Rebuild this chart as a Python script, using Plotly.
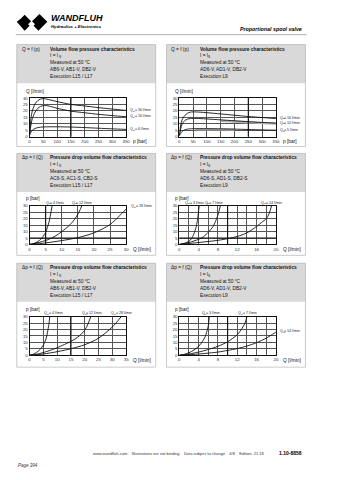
import plotly.graph_objects as go

W, H = 339, 480
def px(x): return x / W
def py(y): return 1 - y / H

FONT = "Liberation Sans, Arial, sans-serif"

# ---------------- data ----------------
# Row 1 left: Q = f(p), Execution L15/L17
r1l_labels = ["30 l/min", "16 l/min", "6 l/min"]
r1l_a_p = [0, 5, 10, 20, 30, 40, 50, 75, 100, 150, 200, 250, 300, 350]
r1l_a_q = [2, 14, 20, 25.5, 28, 29.2, 29.5, 28.5, 27.2, 25, 23.8, 22.5, 21.4, 20.3]
r1l_b_p = [0, 5, 10, 20, 30, 40, 50, 60, 75, 100, 150, 200, 250, 300, 350]
r1l_b_q = [2, 9, 14, 19, 22, 23.5, 24, 24.1, 23.5, 22, 19.8, 18.5, 17.3, 16.3, 15.4]
r1l_c_p = [0, 5, 10, 20, 30, 50, 100, 150, 200, 250, 300, 350]
r1l_c_q = [1, 3.5, 5, 6.3, 7, 7.5, 7.6, 7.4, 7, 6.5, 6, 5.6]
r1l_label_pos = [(357, 20.5), (357, 15.8), (357, 5.8)]

# Row 1 right: Q = f(p), Execution L9
r1r_labels = ["16 l/min", "10 l/min", "5 l/min"]
r1r_a_p = [0, 5, 10, 20, 30, 40, 50, 75, 100, 150, 200, 250, 300, 350]
r1r_a_q = [1, 9, 13, 16.5, 18.2, 19, 19.2, 19, 18.6, 17.6, 16.6, 15.6, 14.8, 14]
r1r_b_p = [0, 5, 10, 20, 30, 40, 50, 75, 100, 150, 200, 250, 300, 350]
r1r_b_q = [1, 6, 9.5, 12.5, 13.6, 14, 14.1, 14, 13.7, 13, 12.3, 11.6, 11, 10.5]
r1r_c_p = [0, 5, 10, 20, 30, 50, 100, 150, 200, 250, 300, 350]
r1r_c_q = [0.5, 2.5, 4, 5.2, 5.8, 6.1, 6.1, 6, 5.8, 5.5, 5.2, 5]
r1r_g1_p = [150, 200, 250, 300, 350]
r1r_g1_q = [12.2, 11.6, 11, 10.5, 10]
r1r_g2_p = [60, 100, 150, 200]
r1r_g2_q = [5.5, 5.6, 5.5, 5.3]
r1r_label_pos = [(357, 14.5), (357, 10.5), (357, 4.8)]

# Row 2 left: dp = f(Q), L15/L17
r2l_labels = ["4 l/min", "12 l/min", "28 l/min"]
r2l_a_q = [0, 1, 2, 3, 4, 5, 5.5, 6, 6.5, 7]
r2l_a_p = [0, 0.5, 1.5, 3, 5.5, 9.5, 13, 17, 23, 30]
r2l_b_q = [0, 2, 4, 6, 8, 10, 12, 13, 14, 15, 15.7, 16.2]
r2l_b_p = [0, 1, 2.3, 4, 6.5, 10, 14, 16.5, 19.5, 23.5, 27, 30]
r2l_c_q = [0, 5, 10, 15, 20, 25, 30]
r2l_c_p = [0, 1.2, 3, 5.3, 9, 15.5, 27.5]
r2l_label_pos = [(4.4, 32.5), (12.5, 32.5), (31.0, 29.5)]

# Row 2 right: dp = f(Q), L9
r2r_labels = ["3 l/min", "7 l/min", "14 l/min"]
r2r_a_q = [0, 1, 2, 2.5, 3, 3.5, 3.8, 4.1]
r2r_a_p = [0, 0.8, 2.5, 4.5, 8, 14, 20, 30]
r2r_b_q = [0, 2, 4, 5, 6, 7, 7.5, 8, 8.5]
r2r_b_p = [0, 1.5, 4, 6, 9.5, 14, 18, 23, 30]
r2r_c_q = [0, 4, 8, 10, 12, 14, 16, 17, 18, 18.6, 19.1]
r2r_c_p = [0, 1.5, 3.2, 4.5, 6.2, 9, 14, 17, 20, 24, 30]
r2r_label_pos = [(0.8, 32.5), (4.8, 32.5), (16.5, 32.5)]

# Row 3 left: dp = f(Q), L15/L17
r3l_labels = ["4 l/min", "12 l/min", "28 l/min"]
r3l_a_q = [0, 1, 2, 3, 4, 5, 6, 6.5, 7, 7.3]
r3l_a_p = [0, 0.5, 1.5, 3, 5, 8, 13, 18, 24, 30]
r3l_b_q = [0, 3, 6, 9, 12, 15, 18, 20, 21, 22.2]
r3l_b_p = [0, 1, 2.8, 5, 7.8, 10.8, 15, 19.5, 23.5, 30]
r3l_c_q = [0, 5, 10, 15, 20, 25, 30, 33.2]
r3l_c_p = [0, 1, 2.8, 5.1, 8.2, 13.3, 22, 30]
r3l_label_pos = [(4.5, 32.5), (18.2, 32.5), (28.9, 32.5)]

# Row 3 right: dp = f(Q), L9
r3r_labels = ["3 l/min", "7 l/min", "14 l/min"]
r3r_a_q = [0, 1, 2, 3, 4, 5, 5.5, 6, 6.2]
r3r_a_p = [0, 0.7, 2, 4, 7, 12, 16, 23, 30]
r3r_b_q = [0, 2, 4, 6, 8, 10, 12, 13, 13.6, 14]
r3r_b_p = [0, 1, 2.5, 4.5, 7, 10.5, 16, 21, 25, 30]
r3r_c_q = [0, 4, 8, 10, 12, 14, 16, 18, 20]
r3r_c_p = [0, 1, 2.5, 3.8, 5.2, 7.2, 9.8, 13.3, 18]
r3r_label_pos = [(4.2, 32.5), (11.8, 32.5), (20.4, 18.5)]

y_ticks = [0, 5, 10, 15, 20, 25, 30]
p_ticks = [0, 50, 100, 150, 200, 250, 300, 350]
q30_ticks = [0, 5, 10, 15, 20, 25, 30]
q35_ticks = [0, 5, 10, 15, 20, 25, 30, 35]
q20_ticks = [0, 4, 8, 12, 16, 20]

# ---------------- layout geometry (pixels) ----------------
panels_x = [(16, 157), (168, 309)]
plot_x = [(29, 127), (181, 279)]
rows = [  # box_top, box_bottom, plot_top, plot_bottom, panel_bottom
    (43, 82, 97, 136, 146),
    (153, 192, 206, 245, 256),
    (264, 303, 318, 357, 369),
]

fig = go.Figure()
shapes = []
annotations = []

def add_text(x, y, text, size=5, anchor="left", bold=False, italic=False, color="#111", valign="middle"):
    if bold:
        text = "<b>" + text + "</b>"
    if italic:
        text = "<i>" + text + "</i>"
    annotations.append(dict(x=px(x), y=py(y), xref="paper", yref="paper", text=text,
                            showarrow=False, xanchor=anchor, yanchor=valign,
                            font=dict(family=FONT, size=size, color=color)))

def add_sub_text(x, y, base, subs, rest, size, base_w, color="#111"):
    """base text, a lowered smaller subscript, then the rest - as separate texts."""
    ssize = size * 0.7
    add_text(x, y, base, size=size, color=color)
    add_text(x + base_w, y + size * 0.25, subs, size=ssize, color=color)
    if rest:
        add_text(x + base_w + ssize * 0.72, y, rest, size=size, color=color)

def path_to_paper(path):
    out = []
    for tok in path.split():
        if "," in tok:
            a, b = tok.split(",")
            out.append(f"{px(float(a)):.5f},{py(float(b)):.5f}")
        else:
            out.append(tok)
    return " ".join(out)

# header logo (W chevrons with diamond)
logo = "M 16,20 L 24,29 L 31,22 L 38,29 L 47,20 L 39,12 L 31,20 L 24,13 L 20,17 Z"
shapes.append(dict(type="path", xref="paper", yref="paper", path=path_to_paper(logo),
                   fillcolor="black", line=dict(width=0)))
inner = "M 27.5,22.5 L 31,19 L 34.5,22.5 L 31,26 Z"
shapes.append(dict(type="path", xref="paper", yref="paper", path=path_to_paper(inner),
                   fillcolor="white", line=dict(width=0)))
add_text(49, 16.5, "WANDFLUH", size=9, bold=True, italic=True, color="#000")
add_text(49, 24.5, "Hydraulics + Electronics", size=4.3, bold=True, italic=True, color="#000")
add_text(308, 27, "Proportional spool valve", size=5.3, anchor="right", bold=True, italic=True, color="#000")
shapes.append(dict(type="line", xref="paper", yref="paper", x0=px(15), x1=px(310), y0=py(33), y1=py(33),
                   line=dict(color="#9a9a9a", width=0.8)))

header_texts = [
    [("Q = f (p)", ["Volume flow pressure characteristics", None, "Measured at 50 °C",
                    "AB6-V, AB1-V, DB2-V", "Execution L15 / L17"]),
     ("Q = f (p)", ["Volume flow pressure characteristics", None, "Measured at 50 °C",
                    "AD6-V, AD1-V, DB2-V", "Execution L9"])],
    [("Δp = f (Q)", ["Pressure drop volume flow characteristics", None, "Measured at 50 °C",
                     "AC6-S, AC1-S, CB2-S", "Execution L15 / L17"]),
     ("Δp = f (Q)", ["Pressure drop volume flow characteristics", None, "Measured at 50 °C",
                     "AD6-S, AD1-S, DB2-S", "Execution L9"])],
    [("Δp = f (Q)", ["Pressure drop volume flow characteristics", None, "Measured at 50 °C",
                     "AB6-V, AB1-V, DB2-V", "Execution L15 / L17"]),
     ("Δp = f (Q)", ["Pressure drop volume flow characteristics", None, "Measured at 50 °C",
                     "AD6-V, AD1-V, DB2-V", "Execution L9"])],
]

for ri, (bt, bb, pt, pb, pbot) in enumerate(rows):
    for ci, (x0, x1) in enumerate(panels_x):
        shapes.append(dict(type="rect", xref="paper", yref="paper", x0=px(x0), x1=px(x1),
                           y0=py(bb), y1=py(bt), fillcolor="#d9d9d9", line=dict(width=0), layer="below"))
        shapes.append(dict(type="rect", xref="paper", yref="paper", x0=px(x0), x1=px(x1),
                           y0=py(pbot), y1=py(bt), fillcolor="rgba(0,0,0,0)",
                           line=dict(color="#b5b5b5", width=0.7)))
        left, lines = header_texts[ri][ci]
        add_text(x0 + 3, bt + 4.5, left, size=4.8)
        for li, ln in enumerate(lines):
            yy = bt + 4.5 + li * 7
            if ln is None:
                add_sub_text(x0 + 32, yy, "I = I", "S", "", 4.8, 8.4)
            else:
                add_text(x0 + 32, yy, ln, size=4.8, bold=(li == 0))

specs = [
    (0, 0, p_ticks, None, 350, "p [bar]", "Q [l/min]",
     [(r1l_a_p, r1l_a_q), (r1l_b_p, r1l_b_q), (r1l_c_p, r1l_c_q)], [], 150, None,
     r1l_labels, r1l_label_pos),
    (0, 1, p_ticks, None, 350, "p [bar]", "Q [l/min]",
     [(r1r_a_p, r1r_a_q), (r1r_b_p, r1r_b_q), (r1r_c_p, r1r_c_q)],
     [(r1r_g1_p, r1r_g1_q), (r1r_g2_p, r1r_g2_q)], 250, None, r1r_labels, r1r_label_pos),
    (1, 0, q30_ticks, None, 30, "Q [l/min]", "p [bar]",
     [(r2l_a_q, r2l_a_p), (r2l_b_q, r2l_b_p), (r2l_c_q, r2l_c_p)], [], 5, 5,
     r2l_labels, r2l_label_pos),
    (1, 1, q20_ticks, 2, 20, "Q [l/min]", "p [bar]",
     [(r2r_a_q, r2r_a_p), (r2r_b_q, r2r_b_p), (r2r_c_q, r2r_c_p)], [], 10, 5,
     r2r_labels, r2r_label_pos),
    (2, 0, q35_ticks, None, 35, "Q [l/min]", "p [bar]",
     [(r3l_a_q, r3l_a_p), (r3l_b_q, r3l_b_p), (r3l_c_q, r3l_c_p)], [], 15, None,
     r3l_labels, r3l_label_pos),
    (2, 1, q20_ticks, 2, 20, "Q [l/min]", "p [bar]",
     [(r3r_a_q, r3r_a_p), (r3r_b_q, r3r_b_p), (r3r_c_q, r3r_c_p)], [], 10, None,
     r3r_labels, r3r_label_pos),
]

GRID = "#555555"
layout_axes = {}
for i, (r, c, xt, mdt, xmax, xlab, ylab, curves, grey, vb, hb, labs, lpos) in enumerate(specs):
    n = i + 1
    xa = "x" if n == 1 else f"x{n}"
    ya = "y" if n == 1 else f"y{n}"
    bt, bb, pt, pb, pbot = rows[r]
    x0, x1 = plot_x[c]
    axis_common = dict(showgrid=True, gridcolor=GRID, gridwidth=0.6, zeroline=False,
                       showline=True, linecolor="#111", linewidth=0.8, mirror=True, ticks="",
                       tickfont=dict(family=FONT, size=4.4, color="#333"), fixedrange=True)
    xdict = dict(domain=[px(x0), px(x1)], range=[0, xmax], tickmode="array", tickvals=xt,
                 ticktext=[str(v) for v in xt], anchor=ya, **axis_common)
    if mdt:
        xdict["minor"] = dict(tickmode="linear", tick0=0, dtick=mdt, showgrid=True,
                              gridcolor=GRID, gridwidth=0.6, ticks="")
    layout_axes["xaxis" if n == 1 else f"xaxis{n}"] = xdict
    layout_axes["yaxis" if n == 1 else f"yaxis{n}"] = dict(
        domain=[py(pb), py(pt)], range=[0, 30], tickmode="array", tickvals=y_ticks,
        ticktext=[str(v) for v in y_ticks], anchor=xa, **axis_common)
    for gx, gy in grey:
        fig.add_trace(go.Scatter(x=gx, y=gy, xaxis=xa, yaxis=ya, mode="lines",
                                 line=dict(color="#b0b0b0", width=2.2, shape="spline"),
                                 showlegend=False, hoverinfo="skip"))
    for cx, cy in curves:
        fig.add_trace(go.Scatter(x=cx, y=cy, xaxis=xa, yaxis=ya, mode="lines",
                                 line=dict(color="#111", width=0.9, shape="spline", smoothing=0.8),
                                 showlegend=False, hoverinfo="skip"))
    if vb is not None:
        shapes.append(dict(type="line", xref=xa, yref=f"{ya} domain", x0=vb, x1=vb, y0=0, y1=1,
                           line=dict(color="#111", width=1.1)))
    if hb is not None:
        shapes.append(dict(type="line", xref=f"{xa} domain", yref=ya, x0=0, x1=1, y0=hb, y1=hb,
                           line=dict(color="#111", width=1.1)))
    add_text(x0 - 6, pt - 7, ylab, size=4.8)
    add_text(x1 + 5, pb + 5, xlab, size=4.8)
    for k, t in enumerate(labs):
        lx, lyv = lpos[k]
        lpx = x0 + (lx / xmax) * (x1 - x0)
        lpy = pb - (lyv / 30.0) * (pb - pt)
        add_sub_text(lpx, lpy, "Q", "N", "= " + t, 3.6, 2.9, color="#222")

# footer
add_text(270, 456, "www.wandfluh.com    Illustrations are not binding    Data subject to change    4/8    Edition: 21 18",
         size=4.0, anchor="right", color="#333")
add_text(308, 456, "1.10-8858", size=5, anchor="right", bold=True, color="#000")
add_text(15, 468, "Page 394", size=4.5, italic=True, color="#333")

fig.update_layout(width=W, height=H, margin=dict(l=0, r=0, t=0, b=0),
                  paper_bgcolor="white", plot_bgcolor="white", showlegend=False,
                  shapes=shapes, annotations=annotations, **layout_axes)

fig.write_html("out.html")
